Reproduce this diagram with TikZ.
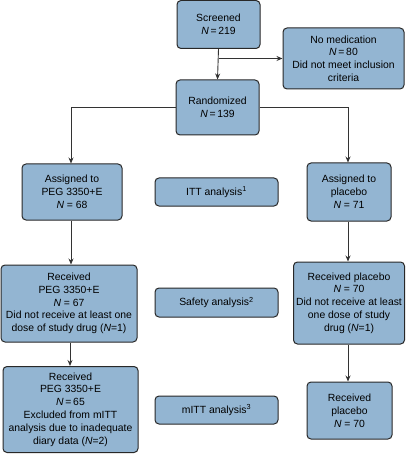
\documentclass[tikz,border=0pt]{standalone}
\usepackage{fontspec}
\setmainfont{Liberation Sans}
\usetikzlibrary{arrows.meta}
\definecolor{boxfill}{RGB}{147,181,210}
\definecolor{boxline}{RGB}{40,40,40}
\begin{document}
\begin{tikzpicture}[x=1pt,y=-1pt,
  box/.style={draw=boxline,line width=1pt,fill=boxfill,rounded corners=4pt,align=center,inner sep=0pt,
    font=\fontsize{10.4pt}{12.8pt}\selectfont},
  conn/.style={draw=black!80,line width=0.9pt,-{Stealth[length=6pt,width=5pt]}},
  plain/.style={draw=black!80,line width=0.9pt}]
\useasboundingbox (0,0) rectangle (406,454);
\node[box,minimum width=83pt,minimum height=48pt] (scr) at (218.5,24.5) {Screened\\\textit{N}\,=\,219};
\node[box,minimum width=121pt,minimum height=61pt] (nomed) at (343.5,58.5) {No medication\\\textit{N}\,=\,80\\Did not meet inclusion\\criteria};
\node[box,minimum width=83pt,minimum height=55pt] (rand) at (217.5,107.5) {Randomized\\\textit{N}\,=\,139};
\node[box,minimum width=100pt,minimum height=56pt] (a1) at (72,192) {Assigned to\\PEG 3350+E\\\textit{N} = 68};
\node[box,minimum width=123pt,minimum height=28pt] (itt) at (216.5,192) {ITT analysis\textsuperscript{1}};
\node[box,minimum width=84pt,minimum height=58pt] (a2) at (349,192) {Assigned to\\placebo\\\textit{N} = 71};
\node[box,minimum width=136pt,minimum height=77pt] (r1) at (69,303.5) {Received\\PEG 3350+E\\\textit{N} = 67\\Did not receive at least one\\dose of study drug (\textit{N}=1)};
\node[box,minimum width=123pt,minimum height=29pt] (saf) at (216.5,302.5) {Safety analysis\textsuperscript{2}};
\node[box,minimum width=111pt,minimum height=82pt] (r2) at (349,303) {Received placebo\\\textit{N} = 70\\Did not receive at least\\one dose of study\\drug (\textit{N}=1)};
\node[box,minimum width=135pt,minimum height=86pt] (m1) at (70.5,409.5) {Received\\PEG 3350+E\\\textit{N}\,=\,65\\Excluded from mITT\\analysis due to inadequate\\diary data (\textit{N}=2)};
\node[box,minimum width=123pt,minimum height=28pt] (mitt) at (216.5,410) {mITT analysis\textsuperscript{3}};
\node[box,minimum width=85pt,minimum height=57pt] (p2) at (349.5,410.5) {Received\\placebo\\\textit{N} = 70};
\coordinate (br) at (scr.south |- 0,58.5);
\coordinate (lc) at (71,107.5);
\coordinate (rc) at (348,107.5);
\draw[conn] (scr.south) -- (rand.north);
\draw[conn] (br) -- (nomed.west);
\draw[plain] (rand.west) -- (lc);
\draw[conn] (lc) -- (lc |- a1.north);
\draw[plain] (rand.east) -- (rc);
\draw[conn] (rc) -- (rc |- a2.north);
\draw[conn] (a1.south -| lc) -- (lc |- r1.north);
\draw[conn] (r1.south -| 70,0) -- (m1.north -| 70,0);
\draw[conn] (a2.south -| rc) -- (rc |- r2.north);
\draw[conn] (r2.south -| rc) -- (rc |- p2.north);
\end{tikzpicture}
\end{document}
